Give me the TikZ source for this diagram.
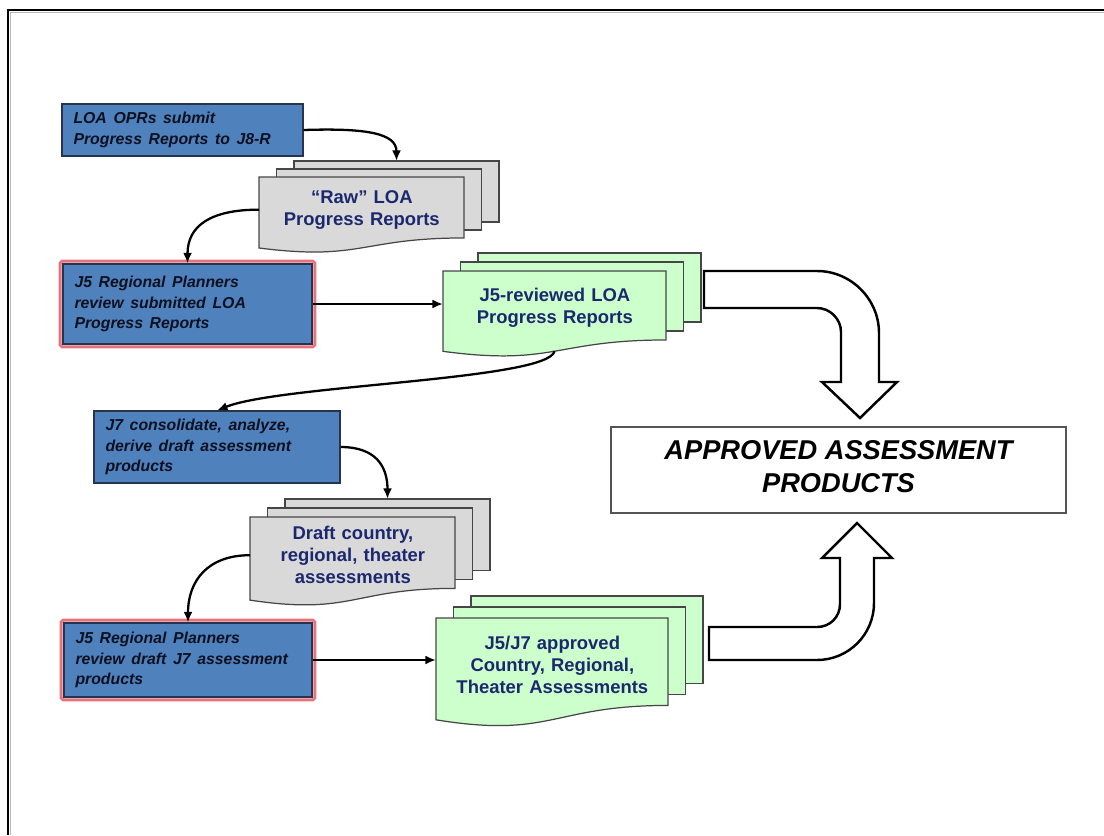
\documentclass[tikz,border=0pt]{standalone}
\usepackage{fontspec}
\setmainfont{Liberation Sans}
\usetikzlibrary{arrows.meta}

\definecolor{boxblue}{RGB}{79,129,189}
\definecolor{boxedge}{RGB}{38,52,78}
\definecolor{boxtext}{RGB}{12,16,32}
\definecolor{reviewred}{RGB}{226,92,104}
\definecolor{docgray}{RGB}{217,217,217}
\definecolor{docgreen}{RGB}{204,255,204}
\definecolor{docedge}{RGB}{70,70,70}
\definecolor{doctextc}{RGB}{28,40,110}
\definecolor{apedge}{RGB}{85,85,85}

\newcommand{\widespaces}{\spaceskip=0.42em plus 0.1em\relax}

\tikzset{
  bluebox/.style={draw=boxedge, fill=boxblue, line width=0.6pt,
    inner xsep=6.5pt, inner ysep=2pt, align=left, text=boxtext,
    font=\fontsize{9}{11.7}\selectfont\bfseries\itshape},
  docline/.style={draw=docedge, line width=0.7pt},
  doctext/.style={draw=none, inner sep=0pt, align=center, anchor=north west,
    text=doctextc, font=\fontsize{10.5}{12.6}\selectfont\bfseries},
  conn/.style={draw=black, line width=1.3pt, -{Latex[length=6pt,width=5pt]}},
  bigarrow/.style={draw=black, line width=1.4pt, fill=white, line join=miter},
  redrim/.style={draw=reviewred, line width=1.7pt, opacity=0.85, rounded corners=1pt},
}

% stack of three document sheets: name, x, y, width, height, vertical step, fill, text
\newcommand{\docstack}[8]{%
  \begin{scope}[shift={(#2,#3)}]
    \draw[docline, fill=#7] (35,{-2*#6}) rectangle ++(#4,{0.802*#5});
    \draw[docline, fill=#7] (17.5,{-#6}) rectangle ++(#4,{0.802*#5});
    \draw[docline, fill=#7] (0,0) -- (#4,0) -- (#4,{0.802*#5})
      .. controls ({0.5*#4},{0.802*#5}) and ({0.5*#4},{1.107*#5}) .. (0,{0.934*#5}) -- cycle;
    \node[doctext, text width={#4*0.02cm}, minimum height={0.85*#5*0.02cm}] (#1) at (0,0) {#8};
    \coordinate (#1-back) at ({35+0.5*#4},{-2*#6});
    \coordinate (#1-bot) at ({0.5*#4},{0.933*#5});
  \end{scope}}

\begin{document}
\begin{tikzpicture}[x=0.02cm, y=-0.02cm]
  \useasboundingbox (0,0) rectangle (1104,835);
  \fill[white] (0,0) rectangle (1104,835);

  % page frame
  \draw[gray!55, line width=0.6pt] (10.8,835) -- (10.8,12.8) -- (1104,12.8);
  \draw[black, line width=1.7pt] (8,835) -- (8,10) -- (1104,10);

  % document stacks
  \docstack{raw}{259}{177}{205}{76}{8}{docgray}{“Raw” LOA\\Progress Reports}
  \docstack{rev}{443}{271}{223}{86}{9}{docgreen}{J5-reviewed LOA\\Progress Reports}
  \docstack{draft}{250}{517}{205}{89}{9}{docgray}{Draft country,\\regional, theater\\assessments}
  \docstack{appd}{436}{618}{232}{109}{11}{docgreen}{J5/J7 approved\\Country, Regional,\\Theater Assessments}

  % process boxes
  \node[bluebox, minimum width={241*0.02cm}, minimum height={52*0.02cm}, text width={218*0.02cm}]
    (opr) at (182.5,130) {\widespaces LOA OPRs submit\\Progress Reports to J8-R};
  \node[bluebox, minimum width={249*0.02cm}, minimum height={80*0.02cm}, text width={226*0.02cm}]
    (j5a) at (187.5,304) {\widespaces J5 Regional Planners\\review submitted LOA\\Progress Reports};
  \draw[redrim] ([shift={(-1.3pt,1.3pt)}]j5a.north west) rectangle ([shift={(1.3pt,-1.3pt)}]j5a.south east);
  \node[bluebox, minimum width={246*0.02cm}, minimum height={72*0.02cm}, text width={223*0.02cm}]
    (j7) at (217,447) {\widespaces J7 consolidate, analyze,\\derive draft assessment\\products};
  \node[bluebox, minimum width={248*0.02cm}, minimum height={74*0.02cm}, text width={225*0.02cm}]
    (j5b) at (188,660) {\widespaces J5 Regional Planners\\review draft J7 assessment\\products};
  \draw[redrim] ([shift={(-1.3pt,1.3pt)}]j5b.north west) rectangle ([shift={(1.3pt,-1.3pt)}]j5b.south east);

  % final product
  \node[draw=apedge, line width=0.9pt, fill=white, minimum width={455*0.02cm}, minimum height={86*0.02cm},
    align=center, font=\fontsize{15.5}{19.3}\selectfont\bfseries\itshape]
    (final) at (838.5,470) {APPROVED ASSESSMENT\\PRODUCTS\rule[-4pt]{0pt}{1pt}};

  % connectors
  \draw[conn] (opr.east) .. controls +(62,-2) and +(0,-28) .. (raw-back);
  \draw[conn] (raw.west) .. controls +(-48,0) and +(0,-38) .. (j5a.north);
  \draw[conn] (j5a.east) -- (j5a.east -| rev.west);
  \draw[conn] (rev-bot) .. controls (548,380) and (280,385) .. (j7.north);
  \draw[conn] (j7.east) .. controls +(36,0) and +(0,-32) .. (draft-back);
  \draw[conn] (draft.west) .. controls +(-42,0) and +(0,-42) .. (j5b.north);
  \draw[conn] (j5b.east) -- (j5b.east -| appd.west);

  % bent block arrows into the final product
  \draw[bigarrow] (704,271) -- (817,271) .. controls (851,271) and (879,299) .. (879,333)
    -- (879,382) -- (897,382) -- (860,418) -- (822,382) -- (841,382) -- (841,332)
    .. controls (841,319) and (830,308) .. (817,308) -- (704,308) -- cycle;
  \draw[bigarrow] (709,627) -- (817,627) .. controls (830,627) and (840,617) .. (840,604)
    -- (840,558) -- (822,558) -- (857,523) -- (892,558) -- (874,558) -- (874,603)
    .. controls (874,634.5) and (848.5,660) .. (817,660) -- (709,660) -- cycle;
\end{tikzpicture}
\end{document}
